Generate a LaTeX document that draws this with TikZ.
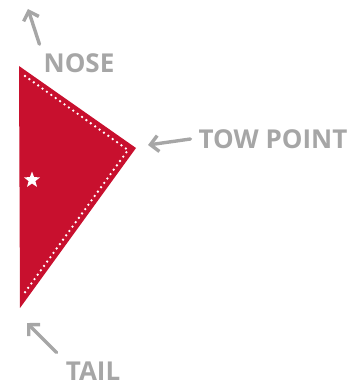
\documentclass[tikz,border=0pt]{standalone}
\usepackage{fontspec}
\setmainfont{Open Sans}
\usetikzlibrary{shapes.geometric,arrows.meta}
\definecolor{flagred}{HTML}{C8102E}
\definecolor{callgray}{HTML}{A6A6A6}
\tikzset{
  label/.style  ={text=callgray,font=\fontsize{26}{29}\selectfont\bfseries,inner sep=0pt},
  pointer/.style={callgray,line width=3.4pt,line cap=round,line join=round,
                  -{Straight Barb[length=8pt,width=16pt,line width=3.4pt]}},
  seam/.style   ={white,line width=2.6pt,line cap=round,dash pattern=on 0pt off 5.4pt}
}
\begin{document}
\begin{tikzpicture}[x=1pt,y=-1pt]
  \useasboundingbox (0,0) rectangle (360,387);
  % Pennant
  \coordinate (nosept) at (19,66);
  \coordinate (towpt)  at (136,148);
  \coordinate (tailpt) at (20,308);
  \fill[flagred] (nosept) -- (towpt) -- (tailpt) -- cycle;
  \draw[seam] (25,76) -- (128,150) -- (23,295);
  \node (star) [star,star points=5,star point ratio=2.4,fill=white,
                minimum size=17pt,inner sep=0pt] at (32,180) {};

  % Labels
  \node (nose) [label] at (79,63)  {NOSE};
  \node (tow)  [label] at (273,139) {TOW POINT};
  \node (tail) [label] at (93,371) {TAIL};
  \coordinate (nosetip) at (28,9);
  \coordinate (towtip)  at (148,145);
  \coordinate (tailtip) at (27,323);

  % Arrows
  \draw [pointer] ([xshift=-4pt,yshift=9pt]nose.north west) -- (nosetip);
  \draw [pointer] ([xshift=-8pt]tow.west) -- (towtip);
  \draw [pointer] ([xshift=-9pt,yshift=9pt]tail.north west) -- (tailtip);
\end{tikzpicture}
\end{document}
